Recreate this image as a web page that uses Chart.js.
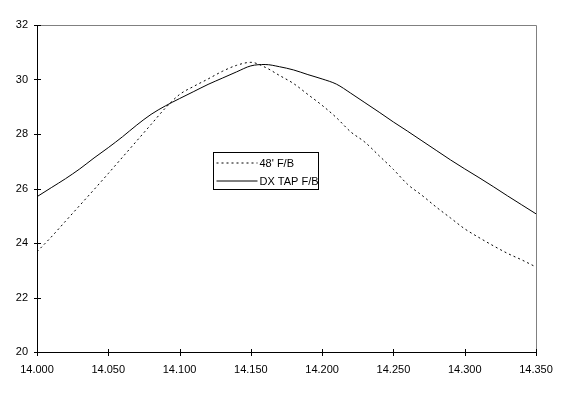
<!DOCTYPE html>
<html>
<head>
<meta charset="utf-8">
<script src="https://cdn.jsdelivr.net/npm/chart.js@4/dist/chart.umd.min.js"></script>
<style>
html,body{margin:0;padding:0;background:#fff;}
#wrap{position:relative;width:571px;height:394px;}
</style>
</head>
<body>
<div id="wrap"><canvas id="c" width="571" height="394"></canvas></div>
<script>
// Frequencies (MHz)
const freqs = [14.00,14.01,14.02,14.03,14.04,14.05,14.06,14.07,14.08,14.09,
  14.10,14.11,14.12,14.13,14.14,14.15,14.16,14.17,14.18,14.19,
  14.20,14.21,14.22,14.23,14.24,14.25,14.26,14.27,14.28,14.29,
  14.30,14.31,14.32,14.33,14.34,14.35];
// 48' F/B (dB)
const fb48 = [23.68,24.22,24.80,25.38,25.96,26.55,27.15,27.75,28.35,28.95,
  29.45,29.75,30.02,30.30,30.52,30.63,30.45,30.15,29.85,29.45,
  29.05,28.60,28.08,27.70,27.20,26.70,26.15,25.75,25.32,24.92,
  24.52,24.20,23.90,23.62,23.38,23.12];
// DX TAP F/B (dB)
const fbDx = [25.70,26.03,26.36,26.72,27.12,27.50,27.90,28.33,28.72,29.03,
  29.30,29.56,29.82,30.05,30.28,30.50,30.55,30.47,30.35,30.18,
  30.02,29.83,29.50,29.15,28.80,28.44,28.10,27.75,27.40,27.05,
  26.72,26.40,26.07,25.73,25.40,25.07];
const seriesLabels = ["48' F/B", "DX TAP F/B"];
const yTicks = [20,22,24,26,28,30,32];
const xTicks = [14.000,14.050,14.100,14.150,14.200,14.250,14.300,14.350];

const FONT = {family: "'Liberation Sans', Arial, sans-serif", size: 11};

const decor = {
  id: 'decor',
  afterDatasetsDraw(chart) {
    const {ctx, chartArea: a, scales} = chart;
    ctx.save();
    ctx.strokeStyle = '#808080';
    ctx.lineWidth = 1;
    ctx.beginPath();
    ctx.moveTo(a.left, a.top + 0.5); ctx.lineTo(a.right + 0.5, a.top + 0.5);
    ctx.lineTo(a.right + 0.5, a.bottom);
    ctx.stroke();
    ctx.strokeStyle = '#000';
    ctx.beginPath();
    ctx.moveTo(a.left + 0.5, a.top); ctx.lineTo(a.left + 0.5, a.bottom + 0.5);
    ctx.lineTo(a.right + 1, a.bottom + 0.5);
    ctx.stroke();
    ctx.beginPath();
    yTicks.forEach(v => {
      const y = Math.round(scales.y.getPixelForValue(v)) + 0.5;
      ctx.moveTo(a.left - 3, y); ctx.lineTo(a.left + 4, y);
    });
    xTicks.forEach(v => {
      const x = Math.round(scales.x.getPixelForValue(v)) + 0.5;
      ctx.moveTo(x, a.bottom - 3); ctx.lineTo(x, a.bottom + 4);
    });
    ctx.stroke();
    const bx = 213.5, by = 152.5, bw = 105, bh = 37;
    ctx.fillStyle = '#fff';
    ctx.fillRect(bx, by, bw, bh);
    ctx.strokeRect(bx, by, bw, bh);
    ctx.font = "11px 'Liberation Sans', Arial, sans-serif";
    ctx.fillStyle = '#000';
    ctx.textBaseline = 'middle';
    const rows = [by + 10, by + 28];
    chart.data.datasets.forEach((ds, i) => {
      ctx.setLineDash(ds.borderDash || []);
      ctx.beginPath();
      ctx.moveTo(bx + 3, rows[i] + 0.5); ctx.lineTo(bx + 44, rows[i] + 0.5);
      ctx.stroke();
      ctx.setLineDash([]);
      ctx.fillText(ds.label, bx + 46, rows[i] + 1);
    });
    ctx.restore();
  }
};

new Chart(document.getElementById('c'), {
  type: 'line',
  data: {
    datasets: [
      {label: seriesLabels[0], data: freqs.map((f, i) => ({x: f, y: fb48[i]})),
       borderColor: '#000', borderWidth: 1, borderDash: [2, 3], pointRadius: 0,
       cubicInterpolationMode: 'monotone', fill: false},
      {label: seriesLabels[1], data: freqs.map((f, i) => ({x: f, y: fbDx[i]})),
       borderColor: '#000', borderWidth: 1, pointRadius: 0,
       cubicInterpolationMode: 'monotone', fill: false}
    ]
  },
  options: {
    responsive: false,
    animation: false,
    events: [],
    layout: {padding: {left: 0, top: 25, right: 35, bottom: 0}},
    plugins: {legend: {display: false}, tooltip: {enabled: false}},
    scales: {
      x: {
        type: 'linear', min: 14.0, max: 14.35,
        afterBuildTicks: s => { s.ticks = xTicks.map(v => ({value: v})); },
        afterFit: s => { s.height = 42; },
        grid: {display: false, drawTicks: false},
        border: {display: false},
        ticks: {color: '#000', font: FONT, padding: 11, maxRotation: 0, autoSkip: false,
                callback: v => Number(v).toFixed(3)}
      },
      y: {
        type: 'linear', min: 20, max: 32,
        afterBuildTicks: s => { s.ticks = yTicks.map(v => ({value: v})); },
        afterFit: s => { s.width = 37; },
        grid: {display: false, drawTicks: false},
        border: {display: false},
        ticks: {color: '#000', font: FONT, padding: 9, callback: v => String(v)}
      }
    }
  },
  plugins: [decor]
});
</script>
</body>
</html>
